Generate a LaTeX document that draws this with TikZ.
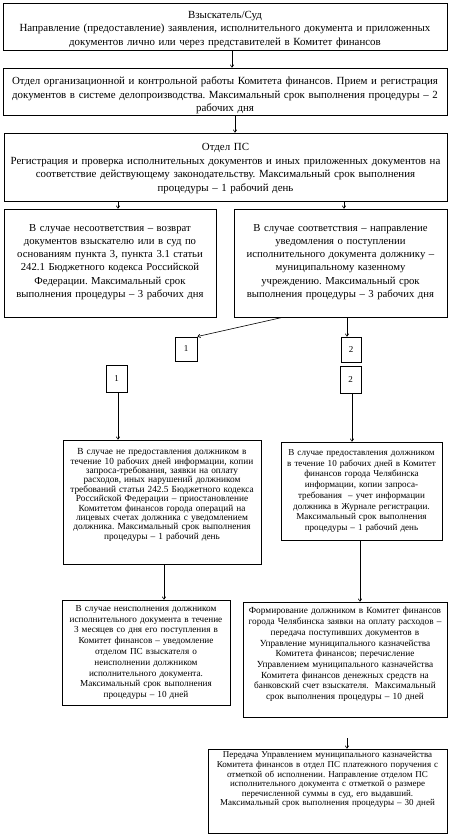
\documentclass[tikz,border=0pt]{standalone}
\usepackage{fontspec}
\setmainfont{Liberation Serif}
\frenchspacing
\usetikzlibrary{arrows.meta,fit,calc}
\begin{document}
\begin{tikzpicture}[x=1pt,y=-1pt,
  box/.style={draw=black, line width=1pt, inner sep=0pt},
  txt/.style={inner sep=0pt, align=center},
  big/.style={font=\fontsize{10.9}{13.4}\selectfont},
  mid/.style={font=\fontsize{10.7}{13.2}\selectfont},
  num/.style={font=\fontsize{9}{10}\selectfont},
  arr/.style={-{To[length=3pt,width=4pt]}, line width=0.6pt}]
\useasboundingbox (0,0) rectangle (450,838);
% boxes
\node[box, fit={(3,3) (447,50)}] (b1) {};
\node[box, fit={(3,68) (447,115)}] (b2) {};
\node[box, fit={(4,133) (447,201)}] (b3) {};
\node[box, fit={(4,209) (216,317)}] (b4L) {};
\node[box, fit={(234,209) (447,317)}] (b4R) {};
\node[box, fit={(175,337) (197,361)}] (s1a) {};
\node[box, fit={(341,337) (361,362)}] (s2a) {};
\node[box, fit={(106,365) (127,392)}] (s1b) {};
\node[box, fit={(340,366) (361,393)}] (s2b) {};
\node[box, fit={(63,440) (261,564)}] (b5L) {};
\node[box, fit={(281,442) (442,540)}] (b5R) {};
\node[box, fit={(62,600) (230,705)}] (b6L) {};
\node[box, fit={(243,602) (447,717)}] (b6R) {};
\node[box, fit={(208,749) (447,833)}] (b7) {};
% texts
\node[txt, big, text width=440pt] (b1t) at ([yshift=-3pt]b1.center) {Взыскатель/Суд\\Направление (предоставление) заявления, исполнительного документа и приложенных\\документов лично или через представителей в Комитет финансов};
\node[txt, big, text width=440pt] (b2t) at ([yshift=-4pt]b2.center) {Отдел организационной и контрольной работы Комитета финансов. Прием и регистрация\\документов в системе делопроизводства. Максимальный срок выполнения процедуры – 2\\рабочих дня};
\node[txt, big, text width=440pt] (b3t) at ([yshift=-1.5pt]b3.center) {Отдел ПС\\Регистрация и проверка исполнительных документов и иных приложенных документов на\\соответствие действующему законодательству. Максимальный срок выполнения\\процедуры – 1 рабочий день};
\node[txt, mid, text width=208pt] (b4Lt) at ([yshift=1pt]b4L.center) {В случае несоответствия – возврат\\документов взыскателю или в суд по\\основаниям пункта 3, пункта 3.1 статьи\\242.1 Бюджетного кодекса Российской\\Федерации. Максимальный срок\\выполнения процедуры – 3 рабочих дня};
\node[txt, mid, text width=208pt] (b4Rt) at ([yshift=1pt]b4R.center) {В случае соответствия – направление\\уведомления о поступлении\\исполнительного документа должнику –\\муниципальному казенному\\учреждению. Максимальный срок\\выполнения процедуры – 3 рабочих дня};
\node[txt, num] (s1at) at (s1a.center) {1};
\node[txt, num] (s2at) at (s2a.center) {2};
\node[txt, num] (s1bt) at (s1b.center) {1};
\node[txt, num] (s2bt) at (s2b.center) {2};
\node[txt, font=\fontsize{9.3}{9.4}\selectfont, text width=196pt] (b5Lt) at ([yshift=7pt]b5L.center) {В случае не предоставления должником в\\течение 10 рабочих дней информации, копии\\запроса-требования, заявки на оплату\\расходов, иных нарушений должником\\требований статьи 242.5 Бюджетного кодекса\\Российской Федерации – приостановление\\Комитетом финансов города операций на\\лицевых счетах должника с уведомлением\\должника. Максимальный срок выполнения\\процедуры – 1 рабочий день};
\node[txt, font=\fontsize{9.1}{10.7}\selectfont, text width=159pt] (b5Rt) at (b5R.center) {В случае предоставления должником\\в течение 10 рабочих дней в Комитет\\финансов города Челябинска\\информации, копии запроса-\\требования~ – учет информации\\должника в Журнале регистрации.\\Максимальный срок выполнения\\процедуры – 1 рабочий день};
\node[txt, font=\fontsize{9.2}{10.8}\selectfont, text width=166pt] (b6Lt) at (b6L.center) {В случае неисполнения должником\\исполнительного документа в течение\\3 месяцев со дня его поступления в\\Комитет финансов – уведомление\\отделом ПС взыскателя о\\неисполнении должником\\исполнительного документа.\\Максимальный срок выполнения\\процедуры – 10 дней};
\node[txt, font=\fontsize{9.3}{10.7}\selectfont, text width=202pt] (b6Rt) at ([yshift=5pt]b6R.center) {Формирование должником в Комитет финансов\\города Челябинска заявки на оплату расходов –\\передача поступивших документов в\\Управление муниципального казначейства\\Комитета финансов; перечисление\\Управлением муниципального казначейства\\Комитета финансов денежных средств на\\банковский счет взыскателя.~ Максимальный\\срок выполнения процедуры – 10 дней};
\node[txt, font=\fontsize{9}{9.6}\selectfont, text width=236pt, anchor=north] (b7t) at ([yshift=-3pt]b7.north) {Передача Управлением муниципального казначейства\\Комитета финансов в отдел ПС платежного поручения с\\отметкой об исполнении. Направление отделом ПС\\исполнительного документа с отметкой о размере\\перечисленной суммы в суд, его выдавший.\\Максимальный срок выполнения процедуры – 30 дней};
% reference x positions
\coordinate (xa) at (232,0);
\coordinate (xb) at (235,0);
\coordinate (xc) at (118,0);
\coordinate (xd) at (344,0);
\coordinate (xe) at (282,0);
\coordinate (xf) at (347,0);
\coordinate (xg) at (352,0);
\coordinate (xh) at (164,0);
\coordinate (xi) at (360,0);
\coordinate (top7) at (347,738);
% connectors
\draw[arr] (b1.south -| xa) -- (b2.north -| xa);
\draw[arr] (b2.south -| xb) -- (b3.north -| xb);
\draw[arr] (b3.south -| xc) -- (b4L.north -| xc);
\draw[arr] (b3.south -| xd) -- (b4R.north -| xd);
\draw[arr] (b4R.south -| xe) -- (s1a.north east);
\draw[arr] (b4R.south -| xf) -- (s2a.north -| xf);
\draw[arr] (s1b.south -| xc) -- (b5L.north -| xc);
\draw[arr] (s2b.south -| xg) -- (b5R.north -| xg);
\draw[arr] (b5L.south -| xh) -- (b6L.north -| xh);
\draw[arr] (b5R.south -| xi) -- (b6R.north -| xi);
\draw[arr] (top7) -- (b7.north -| top7);
\end{tikzpicture}
\end{document}
